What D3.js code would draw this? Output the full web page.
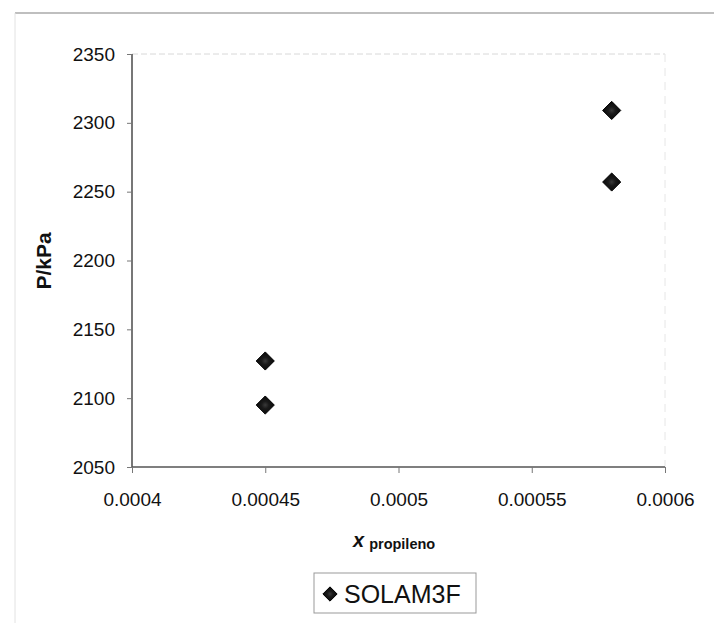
<!DOCTYPE html>
<html><head><meta charset="utf-8">
<script src="https://cdn.jsdelivr.net/npm/d3@7"></script>
<style>body{margin:0;background:#fff}svg{display:block}text{font-family:"Liberation Sans",Arial,sans-serif}</style>
</head><body>
<svg id="c" width="714" height="623"></svg>
<script>
const seriesName = "SOLAM3F";
const xValues = [0.00045, 0.00045, 0.00058, 0.00058];
const pValues = [2127, 2095, 2309, 2257];
const xTicks = [0.0004, 0.00045, 0.0005, 0.00055, 0.0006];
const xTickLabels = ["0.0004", "0.00045", "0.0005", "0.00055", "0.0006"];
const yTicks = [2050, 2100, 2150, 2200, 2250, 2300, 2350];

const svg = d3.select("#c");
const L = 132, R = 665, T = 54, B = 467;
const x = d3.scaleLinear().domain([0.0004, 0.0006]).range([L, R]);
const y = d3.scaleLinear().domain([2050, 2350]).range([B, T]);

// outer chart frame (faint)
svg.append("line").attr("x1",15).attr("x2",714).attr("y1",13).attr("y2",13).attr("stroke","#aaa").attr("stroke-width",1.5);
svg.append("line").attr("x1",15).attr("x2",15).attr("y1",13).attr("y2",623).attr("stroke","#e2e2e2").attr("stroke-width",1);

// plot area top/right borders (faint dotted)
svg.append("line").attr("x1",L).attr("x2",R).attr("y1",T).attr("y2",T).attr("stroke","#d8d8d8").attr("stroke-dasharray","6,3").attr("stroke-width",1);
svg.append("line").attr("x1",R).attr("x2",R).attr("y1",T).attr("y2",B).attr("stroke","#e6e6e6").attr("stroke-dasharray","8,6").attr("stroke-width",1);

// axes
const yAxis = d3.axisLeft(y).tickValues(yTicks).tickFormat(d3.format("d")).tickSize(5).tickPadding(12);
const gy = svg.append("g").attr("transform",`translate(${L},0)`).call(yAxis);
const xAxis = d3.axisBottom(x).tickValues(xTicks).tickFormat((d,i)=>xTickLabels[i]).tickSize(6).tickPadding(20);
const gx = svg.append("g").attr("transform",`translate(0,${B})`).call(xAxis);
[gx, gy].forEach(g=>{
  g.select(".domain").attr("stroke","#555").attr("stroke-width",1.6);
  g.selectAll(".tick line").attr("stroke","#777").attr("stroke-width",1);
  g.selectAll(".tick text").attr("fill","#111").style("font-size","19px").style("font-family","'Liberation Sans',Arial,sans-serif");
});
gy.select(".domain").attr("d",`M0,${B}V${T}`);
gx.select(".domain").attr("d",`M${L},0H${R}`);

// axis titles
svg.append("text").attr("transform","translate(51,261) rotate(-90)").attr("text-anchor","middle")
  .style("font-size","21px").style("font-weight","bold").attr("fill","#111").text("P/kPa");
const xt = svg.append("text").attr("x",353).attr("y",547).attr("fill","#111").style("font-weight","bold");
xt.append("tspan").style("font-style","italic").style("font-size","20px").text("x");
xt.append("tspan").attr("dx",5).attr("dy",2).style("font-size","14.5px").text("propileno");

// markers
const defs = svg.append("defs");
const grad = defs.append("radialGradient").attr("id","mk");
grad.append("stop").attr("offset","0%").attr("stop-color","#3a3a3a");
grad.append("stop").attr("offset","40%").attr("stop-color","#1a1a1a");
grad.append("stop").attr("offset","100%").attr("stop-color","#080808");
const diamond = d3.symbol().type(d3.symbolDiamond2).size(210);
svg.append("g").selectAll("path").data(xValues.map((v,i)=>({x:v,p:pValues[i]}))).join("path")
  .attr("d",diamond).attr("transform",d=>`translate(${x(d.x)},${y(d.p)})`)
  .attr("fill","url(#mk)").attr("stroke","#000").attr("stroke-width",1);

// legend
svg.append("rect").attr("x",314).attr("y",573).attr("width",162).attr("height",40)
  .attr("fill","#fff").attr("stroke","#999").attr("stroke-width",1);
svg.append("path").attr("d",d3.symbol().type(d3.symbolDiamond2).size(130)).attr("transform","translate(330,594)")
  .attr("fill","url(#mk)").attr("stroke","#000");
svg.append("text").attr("x",344).attr("y",603).style("font-size","25px").attr("fill","#111").text(seriesName);
</script>
</body></html>
